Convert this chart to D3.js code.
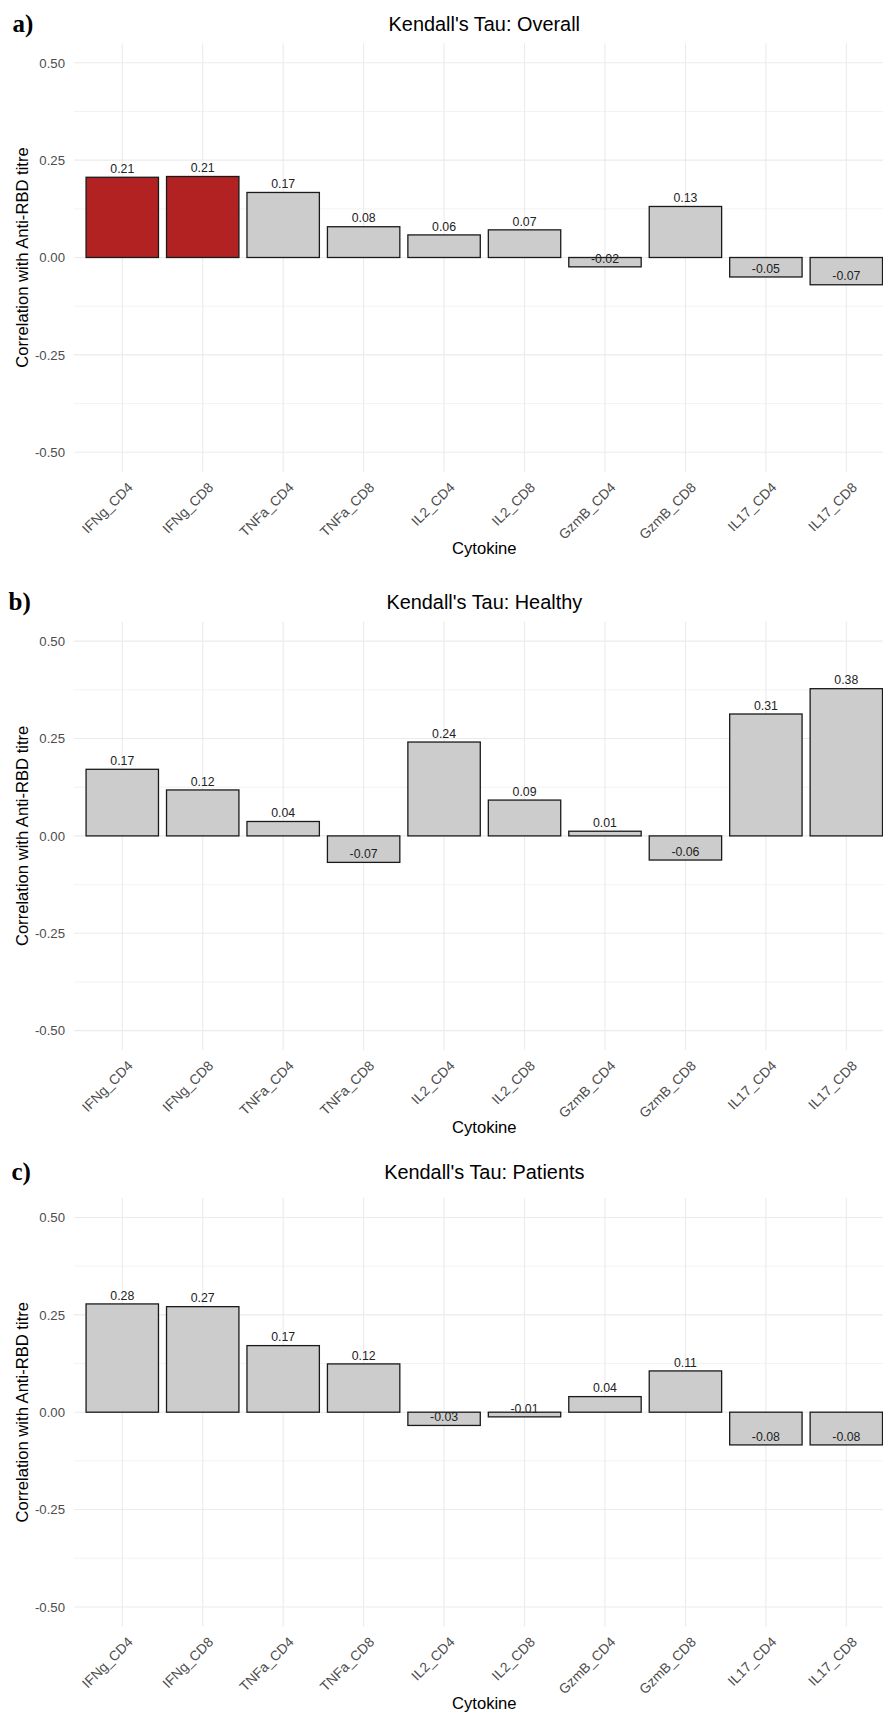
<!DOCTYPE html>
<html>
<head>
<meta charset="utf-8">
<script src="https://cdn.jsdelivr.net/npm/d3@7"></script>
<style>
  html, body { margin: 0; padding: 0; background: #fff; }
  svg { display: block; }
</style>
</head>
<body>
<script>
// Kendall's tau between cytokine responses and anti-RBD titre
const categories = ["IFNg_CD4", "IFNg_CD8", "TNFa_CD4", "TNFa_CD8", "IL2_CD4",
                    "IL2_CD8", "GzmB_CD4", "GzmB_CD8", "IL17_CD4", "IL17_CD8"];

const overallTau  = [0.206, 0.208, 0.167, 0.079, 0.058, 0.071, -0.024, 0.131, -0.050, -0.070];
const healthyTau  = [0.171, 0.118, 0.037, -0.068, 0.241, 0.092, 0.012, -0.062, 0.313, 0.378];
const patientsTau = [0.278, 0.271, 0.171, 0.124, -0.034, -0.012, 0.040, 0.106, -0.084, -0.084];

// significant correlations are filled red
const overallSig  = [true, true, false, false, false, false, false, false, false, false];
const healthySig  = [false, false, false, false, false, false, false, false, false, false];
const patientsSig = [false, false, false, false, false, false, false, false, false, false];

const panelTitles = ["Kendall's Tau: Overall", "Kendall's Tau: Healthy", "Kendall's Tau: Patients"];
const panelTags = ["a)", "b)", "c)"];
const yTicks = [-0.5, -0.25, 0, 0.25, 0.5];
const yMinorTicks = [-0.375, -0.125, 0.125, 0.375];

const W = 883, H = 1715;
const sans = "'Liberation Sans', Arial, Helvetica, sans-serif";
const serif = "'Liberation Serif', 'Times New Roman', serif";

const svg = d3.select("body").append("svg")
  .attr("width", W).attr("height", H)
  .attr("viewBox", `0 0 ${W} ${H}`);

const panelLeft = 74, panelRight = 894.6, panelH = 428.4;
const layout = [
  { top: 43.3,  titleY: 24,    tagX: 12.5 },
  { top: 621.7, titleY: 601.7, tagX: 8.5 },
  { top: 1198,  titleY: 1172,  tagX: 11.5 }
];

const series = [
  { values: overallTau,  sig: overallSig },
  { values: healthyTau,  sig: healthySig },
  { values: patientsTau, sig: patientsSig }
];

const x = d3.scaleBand()
  .domain(categories)
  .range([panelLeft, panelRight])
  .paddingInner(0.1)
  .paddingOuter(0.15);

const gridColor = "#EBEBEB";
const midX = (panelLeft + panelRight) / 2;

series.forEach((s, i) => {
  const L = layout[i];
  const top = L.top, bottom = top + panelH;
  const y = d3.scaleLinear().domain([-0.55, 0.55]).range([bottom, top]);
  const g = svg.append("g");

  // grid
  const grid = g.append("g");
  grid.selectAll("line.minor").data(yMinorTicks).join("line")
    .attr("class", "minor")
    .attr("x1", panelLeft).attr("x2", panelRight)
    .attr("y1", d => y(d)).attr("y2", d => y(d))
    .attr("stroke", gridColor).attr("stroke-width", 0.6);
  grid.selectAll("line.major").data(yTicks).join("line")
    .attr("class", "major")
    .attr("x1", panelLeft).attr("x2", panelRight)
    .attr("y1", d => y(d)).attr("y2", d => y(d))
    .attr("stroke", gridColor).attr("stroke-width", 1.1);
  grid.selectAll("line.vert").data(categories).join("line")
    .attr("class", "vert")
    .attr("x1", d => x(d) + x.bandwidth() / 2).attr("x2", d => x(d) + x.bandwidth() / 2)
    .attr("y1", top).attr("y2", bottom)
    .attr("stroke", gridColor).attr("stroke-width", 1.1);

  const rows = categories.map((c, k) => ({ cat: c, v: s.values[k], sig: s.sig[k] }));

  // bars
  g.append("g").selectAll("rect").data(rows).join("rect")
    .attr("x", d => x(d.cat))
    .attr("width", x.bandwidth())
    .attr("y", d => y(Math.max(0, d.v)))
    .attr("height", d => Math.abs(y(d.v) - y(0)))
    .attr("fill", d => d.sig ? "#B22222" : "#CCCCCC")
    .attr("stroke", "#1a1a1a")
    .attr("stroke-width", 1.3);

  // value labels
  g.append("g").selectAll("text").data(rows).join("text")
    .attr("x", d => x(d.cat) + x.bandwidth() / 2)
    .attr("y", d => y(d.v) - 4.3)
    .attr("text-anchor", "middle")
    .attr("font-family", sans)
    .attr("font-size", 12.3)
    .attr("fill", "#222")
    .text(d => d.v.toFixed(2));

  // y axis
  const ya = g.append("g")
    .attr("transform", `translate(65,0)`)
    .call(d3.axisLeft(y).tickValues(yTicks).tickSize(0).tickPadding(0)
      .tickFormat(d => d.toFixed(2)));
  ya.select(".domain").remove();
  ya.selectAll("text")
    .attr("font-family", sans).attr("font-size", 13.2).attr("fill", "#4D4D4D");

  // x axis
  const xa = g.append("g")
    .attr("transform", `translate(0,${bottom})`)
    .call(d3.axisBottom(x).tickSize(0).tickPadding(0));
  xa.select(".domain").remove();
  xa.selectAll("text")
    .attr("x", 0).attr("y", 0).attr("dy", "0.72em")
    .attr("transform", "translate(4.5,9.5) rotate(-45)")
    .style("text-anchor", "end")
    .attr("font-family", sans).attr("font-size", 13.8).attr("fill", "#4D4D4D");

  // titles
  g.append("text")
    .attr("x", midX).attr("y", L.titleY)
    .attr("dy", "0.35em")
    .attr("text-anchor", "middle")
    .attr("font-family", sans).attr("font-size", 19.9).attr("fill", "#000")
    .text(panelTitles[i]);

  g.append("text")
    .attr("x", midX).attr("y", top + 505)
    .attr("dy", "0.35em")
    .attr("text-anchor", "middle")
    .attr("font-family", sans).attr("font-size", 16.6).attr("fill", "#000")
    .text("Cytokine");

  g.append("text")
    .attr("transform", `translate(22,${top + panelH / 2}) rotate(-90)`)
    .attr("dy", "0.35em")
    .attr("text-anchor", "middle")
    .attr("font-family", sans).attr("font-size", 16.6).attr("fill", "#000")
    .text("Correlation with Anti-RBD titre");

  g.append("text")
    .attr("x", L.tagX).attr("y", L.titleY)
    .attr("dy", "0.33em")
    .attr("font-family", serif).attr("font-weight", "bold")
    .attr("font-size", 25).attr("fill", "#000")
    .text(panelTags[i]);
});
</script>
</body>
</html>
